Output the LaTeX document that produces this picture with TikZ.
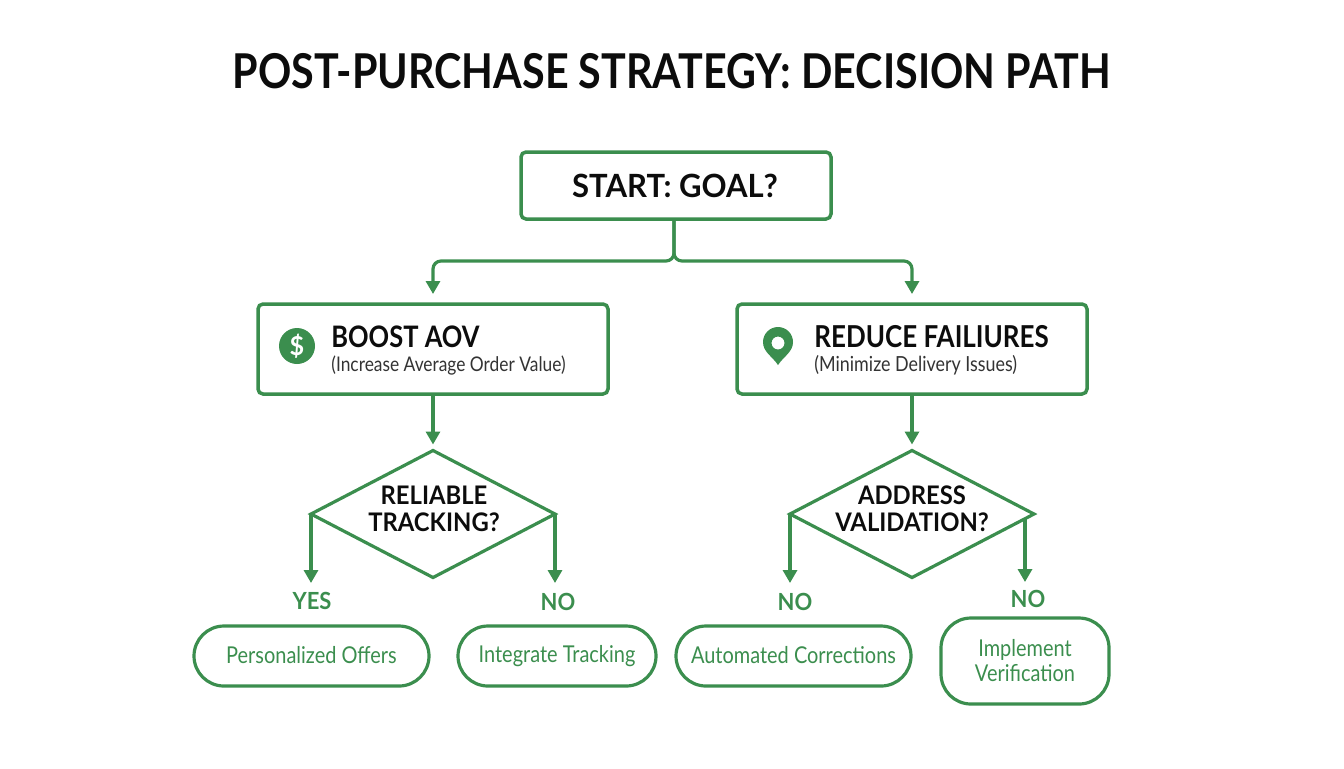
\documentclass[tikz,border=0pt]{standalone}
\usepackage{fontspec}
\setmainfont{Lato}[FakeStretch=0.86]
\newfontfamily\startfont{Lato}[FakeStretch=0.97]
\newfontfamily\widefont{Lato}[FakeStretch=0.93]
\usepackage{xcolor}
\usetikzlibrary{shapes.geometric}
\usetikzlibrary{arrows.meta}
\definecolor{flowgreen}{HTML}{3B8E4E}
\definecolor{inkblack}{HTML}{0C0C0C}
\tikzset{
    goalbox/.style={draw=flowgreen, line width=1.75pt, rounded corners=2.5pt, inner sep=0pt, outer sep=0pt},
    decisionbox/.style={draw=flowgreen, line width=1.6pt, diamond, inner sep=0pt, outer sep=0pt, minimum width=122pt, minimum height=63.5pt},
    resultbox/.style={draw=flowgreen, line width=1.6pt, rounded corners=15pt, inner sep=0pt, outer sep=0pt, text=flowgreen, align=center, font=\fontsize{11.6}{12.5}\selectfont},
    headtext/.style={text=inkblack, font=\fontsize{14.8}{14}\selectfont\bfseries, align=center, inner sep=0pt},
    asktext/.style={text=inkblack, font=\widefont\fontsize{12.8}{13.5}\selectfont\bfseries, align=center, inner sep=0pt},
    subtext/.style={text=black!80, font=\fontsize{10.1}{12}\selectfont, inner sep=0pt, anchor=west},
    answer/.style={text=flowgreen, font=\widefont\fontsize{11.8}{14}\selectfont\bfseries, inner sep=0pt},
    flow/.style={draw=flowgreen, line width=1.6pt, -{Triangle[length=6.5pt,width=7pt]}}
}

\begin{document}
\begin{tikzpicture}[x=0.5pt, y=-0.5pt]
        \useasboundingbox (0,0) rectangle (1344,768);

        % title
        \node[text=inkblack, font=\fontsize{24}{28}\selectfont\bfseries, inner sep=0pt] (title) at (672,71) {POST-PURCHASE STRATEGY: DECISION PATH};

        % boxes
        \node[goalbox, minimum width=155pt, minimum height=33.5pt] (start) at (676,185.5) {};
        \node[headtext, font=\startfont\fontsize{16}{16}\selectfont\bfseries] (starttext) at (675,186) {START: GOAL?};
        \node[goalbox, minimum width=175pt, minimum height=45pt] (boost) at (433,349) {};
        \node[goalbox, minimum width=175pt, minimum height=45pt] (reduce) at (912,349) {};

        % box texts
        \node[headtext, anchor=west] (boosttext) at (331,337) {BOOST AOV};
        \node[subtext] (boostsub) at (331,365) {(Increase Average Order Value)};
        \node[headtext, anchor=west, font=\fontsize{15.1}{14}\selectfont\bfseries] (reducetext) at (814,337) {REDUCE FAILIURES};
        \node[subtext, font=\fontsize{10.4}{12}\selectfont] (reducesub) at (814,365) {(Minimize Delivery Issues)};

        % icons
        \node[circle, fill=flowgreen, minimum size=18pt, inner sep=0pt, text=white, font=\startfont\fontsize{13}{13}\selectfont\bfseries] (dollar) at (297,346) {\$};
        \fill[flowgreen, even odd rule] (778,365) .. controls (772,356) and (763,352) .. (763,342) arc[start angle=180, end angle=360, radius=15] .. controls (793,352) and (784,356) .. (778,365) -- cycle (784.5,343) arc[start angle=0, end angle=360, radius=6.5];

        % diamonds
        \node[decisionbox] (tracking) at (433,514) {};
        \node[asktext] (trackingtext) at (434,508.5) {RELIABLE\\TRACKING?};
        \node[decisionbox] (address) at (912,514) {};
        \node[asktext] (addresstext) at (912,508.5) {ADDRESS\\VALIDATION?};

        % results
        \node[resultbox, minimum width=117.5pt, minimum height=30pt] (offers) at (311.5,656) {\raisebox{1pt}{Personalized Offers}};
        \node[resultbox, minimum width=99pt, minimum height=30pt] (integrate) at (557,656) {\raisebox{-0.5pt}{Integrate Tracking}};
        \node[resultbox, minimum width=117.5pt, minimum height=30pt] (corrections) at (793.5,656) {\raisebox{1pt}{Automated Corrections}};
        \node[resultbox, minimum width=84pt, minimum height=43pt] (verification) at (1025,661) {Implement\\Verification};

        % answers
        \node[answer] (yesleft) at (312,601) {YES};
        \node[answer] (noleft) at (558,602) {NO};
        \node[answer] (noright) at (795,602) {NO};
        \node[answer] (nofar) at (1028,599) {NO};

        % free ends
        \coordinate (split) at (674,261);
        \coordinate (yesend) at (311,583);
        \coordinate (noleftend) at (555,583);
        \coordinate (norightend) at (790,583);
        \coordinate (nofarstart) at (1025,519);
        \coordinate (nofarend) at (1025,582);

        % arrows
        \draw[flow, rounded corners=4pt, shorten >=5pt] (start.south -| split) -- (split) -| (boost.north);
        \draw[flow, rounded corners=4pt, shorten >=5pt] (start.south -| split) -- (split) -| (reduce.north);
        \draw[flow, shorten >=3pt] (boost.south) -- (tracking.north);
        \draw[flow, shorten >=3pt] (reduce.south) -- (address.north);
        \draw[flow] (tracking.west) -- (yesend);
        \draw[flow] (tracking.east) -- (noleftend);
        \draw[flow] (address.west) -- (norightend);
        \draw[flow] (nofarstart) -- (nofarend);
    \end{tikzpicture}
\end{document}
